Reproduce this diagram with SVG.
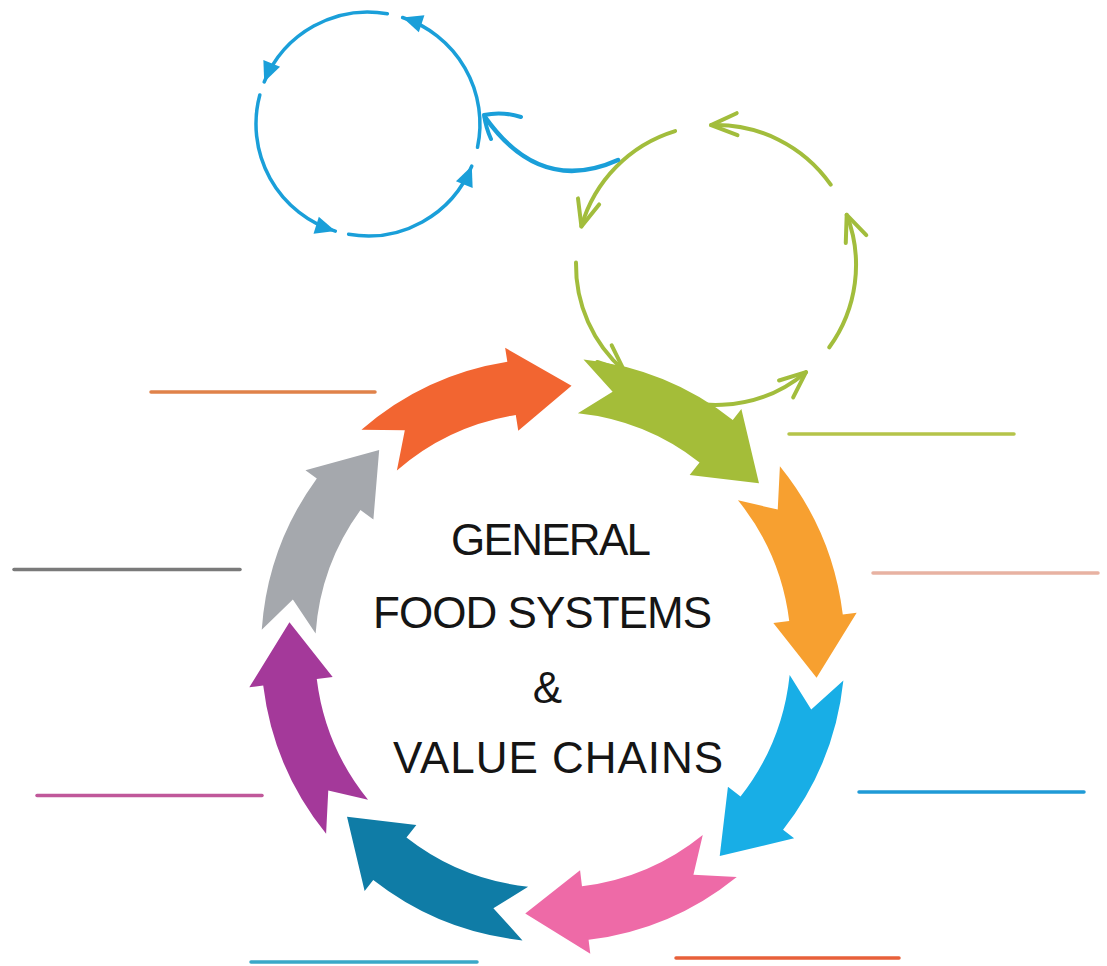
<svg xmlns="http://www.w3.org/2000/svg" width="1107" height="966" viewBox="0 0 1107 966">
<defs>
<style>
.lbl{font-family:"Liberation Sans","DejaVu Sans",sans-serif;font-size:44px;fill:#151515;text-anchor:middle}
.blank{stroke-width:3.5;stroke-linecap:round;fill:none}
.bc{fill:none;stroke:#1a9fd9;stroke-width:3.5;stroke-linecap:round}
.gc{fill:none;stroke:#a2bd3c;stroke-width:4;stroke-linecap:round}
marker{overflow:visible}
</style>
<path id="seg" d="M289.8,-35.6 A292,292 0 0 1 264.6,123.4 L277.3,129.3 L208.8,163.2 L201.2,93.8 L215.7,100.6 A238,238 0 0 0 236.2,-29 L265,0 Z"/>
<marker id="bh" markerUnits="userSpaceOnUse" markerWidth="24" markerHeight="24" viewBox="-22 -12 24 24" refX="0" refY="0" orient="auto">
<path d="M-20,-9 L0,0 L-20,9 Z" fill="#1a9fd9"/>
</marker>
<marker id="gh" markerUnits="userSpaceOnUse" markerWidth="34" markerHeight="30" viewBox="-30 -15 34 30" refX="0" refY="0" orient="auto">
<path d="M-26,-11 L0,0 L-26,11" fill="none" stroke="#a2bd3c" stroke-width="4" stroke-linecap="round" stroke-linejoin="round"/>
</marker>
</defs>
<rect width="1107" height="966" fill="#ffffff"/>

<g id="blue-cycle">
<path class="bc" d="M259.8,95 A112,112 0 0 0 335.3,231.1" marker-end="url(#bh)"/>
<path class="bc" d="M348.6,234.3 A112,112 0 0 0 471.8,166" marker-end="url(#bh)"/>
<path class="bc" d="M477.5,147.3 A112,112 0 0 0 402.6,17.5" marker-end="url(#bh)"/>
<path class="bc" d="M387.4,13.7 A112,112 0 0 0 264.2,82" marker-end="url(#bh)"/>
</g>

<g id="green-cycle">
<path class="gc" d="M830.7,184.7 A140,140 0 0 0 711.1,125.1" marker-end="url(#gh)"/>
<path class="gc" d="M675.1,131.1 A140,140 0 0 0 581.4,226.4" marker-end="url(#gh)"/>
<path class="gc" d="M576,262.6 A140,140 0 0 0 624.1,370.7" marker-end="url(#gh)"/>
<path class="gc" d="M635.7,379.7 A140,140 0 0 0 806,372.2" marker-end="url(#gh)"/>
<path class="gc" d="M829.3,347.3 A140,140 0 0 0 846.7,214.8" marker-end="url(#gh)"/>
</g>

<g id="connectors">
<path d="M618,160 Q540,195 485,117" fill="none" stroke="#1a9fd9" stroke-width="4.5" stroke-linecap="round"/>
<path d="M521,117 Q502,111 484,115 Q486,128 491,139" fill="none" stroke="#1a9fd9" stroke-width="4" stroke-linecap="round" stroke-linejoin="round"/>
</g>

<g id="arrow-orange-right"><use href="#seg" transform="translate(553 650) rotate(-32)" fill="#f7a030"/></g>
<g id="arrow-blue"><use href="#seg" transform="translate(553 650) rotate(13)" fill="#18aee6"/></g>
<g id="arrow-pink"><use href="#seg" transform="translate(553 650) rotate(58)" fill="#ee6aa7"/></g>
<g id="arrow-teal"><use href="#seg" transform="translate(553 650) rotate(103)" fill="#0f7ca6"/></g>
<g id="arrow-purple"><use href="#seg" transform="translate(553 650) rotate(148)" fill="#a4399a"/></g>
<g id="arrow-gray"><use href="#seg" transform="translate(553 650) rotate(191)" fill="#a5a8ad"/></g>
<g id="arrow-orange-top"><use href="#seg" transform="translate(553 650) rotate(236)" fill="#f26531"/></g>
<g id="arrow-green"><use href="#seg" transform="translate(553 650) rotate(283)" fill="#a4bd39"/></g>

<g id="blanks">
<line class="blank" x1="151" y1="392" x2="375" y2="392" stroke="#e0824a"/>
<line class="blank" x1="789" y1="434" x2="1014" y2="434" stroke="#b5c44a"/>
<line class="blank" x1="14" y1="569.5" x2="240" y2="569.5" stroke="#7a7a7a"/>
<line class="blank" x1="873" y1="573" x2="1098" y2="573" stroke="#e8b2a2"/>
<line class="blank" x1="37" y1="795.5" x2="262" y2="795.5" stroke="#c0589a"/>
<line class="blank" x1="859" y1="792" x2="1084" y2="792" stroke="#1f9ad6"/>
<line class="blank" x1="251" y1="962" x2="477" y2="962" stroke="#3aa8c8"/>
<line class="blank" x1="676" y1="958" x2="899" y2="958" stroke="#e8603a"/>
</g>

<g id="title">
<text class="lbl" x="551" y="555" textLength="200" lengthAdjust="spacing">GENERAL</text>
<text class="lbl" x="542.5" y="628" textLength="339" lengthAdjust="spacing">FOOD SYSTEMS</text>
<text class="lbl" x="547.5" y="703">&amp;</text>
<text class="lbl" x="558" y="773" textLength="330" lengthAdjust="spacing">VALUE CHAINS</text>
</g>
</svg>
